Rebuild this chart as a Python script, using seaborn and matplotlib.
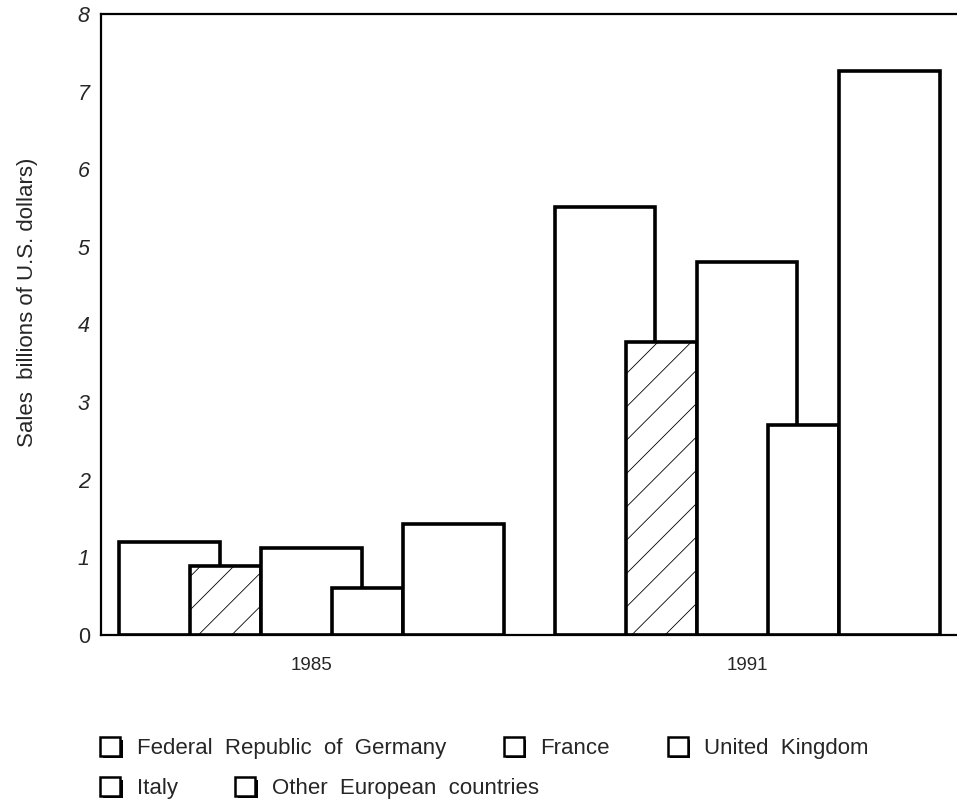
import pandas as pd
import matplotlib.pyplot as plt
import seaborn as sns
from matplotlib.patches import Rectangle
import matplotlib.patheffects as pe

# values (billions of US dollars)
years = ["1985", "1991"]
countries = ["Federal Republic of Germany", "France", "United Kingdom",
             "Italy", "Other European countries"]
germany = [1.20, 5.51]
france = [0.89, 3.78]
uk = [1.12, 4.81]
italy = [0.60, 2.71]
other = [1.43, 7.27]

rows = []
for name, vals in zip(countries, [germany, france, uk, italy, other]):
    for yr, v in zip(years, vals):
        rows.append({"year": yr, "country": name, "sales": v})
data = pd.DataFrame(rows)

sns.set_style("white")
plt.rcParams["font.family"] = ["Liberation Sans", "DejaVu Sans"]
plt.rcParams["hatch.linewidth"] = 0.6

fig = plt.figure(figsize=(9.57, 8.06), dpi=100)
ax = fig.add_axes([0.1055, 0.2122, 0.8945, 0.7704])

sns.barplot(data=data, x="year", y="sales", hue="country", order=years,
            hue_order=countries, palette=["white"] * 5, saturation=1,
            width=0.815, edgecolor="black", linewidth=2.6,
            errorbar=None, legend=False, ax=ax)

# wide bars overlap the next one, like the original drawing
for i, cont in enumerate(ax.containers):
    for p in cont:
        if i in (0, 2, 4):
            p.set_width(0.23)
        p.set_x(p.get_x() - 0.0325)
        if i == 1:
            p.set_hatch("/")

ax.set_xlim(-0.482, 1.482)
ax.set_ylim(0, 8)
ax.set_yticks(range(9))
ax.set_xlabel("")
ax.set_ylabel("Sales  billions of U.S. dollars)", fontsize=16)
ax.yaxis.set_label_coords(-0.074, 0.536)
ax.tick_params(axis="y", length=0, pad=8, labelsize=15.5)
ax.tick_params(axis="x", length=0, pad=16, labelsize=13.5)
for lab in ax.get_yticklabels()[1:]:
    lab.set_fontstyle("italic")

ax.spines["right"].set_visible(False)
for s in ["left", "top", "bottom"]:
    ax.spines[s].set_linewidth(1.6)
    ax.spines[s].set_color("black")

shadow = [pe.SimplePatchShadow(offset=(2, -2), shadow_rgbFace="black", alpha=1),
          pe.Normal()]
handles = []
for c in countries:
    h = Rectangle((0, 0), 1, 1, facecolor="white", edgecolor="black", linewidth=1.8)
    h.set_path_effects(shadow)
    handles.append(h)

labels = [c.replace(" ", "  ") for c in countries]
leg_kw = dict(frameon=False, fontsize=16, loc="center left", borderpad=0,
              handlelength=0.9, handleheight=0.9, handletextpad=0.75,
              columnspacing=2.6, borderaxespad=0)
leg1 = fig.legend(handles[:3], labels[:3], ncol=3,
                  bbox_to_anchor=(100 / 957, 1 - 748 / 806), **leg_kw)
leg2 = fig.legend(handles[3:], labels[3:], ncol=2,
                  bbox_to_anchor=(100 / 957, 1 - 788 / 806), **leg_kw)

fig.savefig("out.png", dpi=100)
